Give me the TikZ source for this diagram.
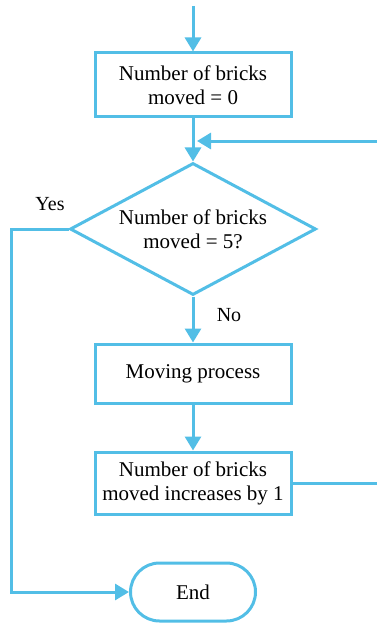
\documentclass[tikz,border=0pt]{standalone}
\usepackage{fontspec}
\setmainfont{Liberation Serif}
\newfontfamily\boxfont{Liberation Serif}
\usetikzlibrary{arrows.meta,shapes.geometric,shapes.misc}
\definecolor{flow}{RGB}{82,190,230}
\begin{document}
\begin{tikzpicture}[x=1pt,y=-1pt,
  line/.style={draw=flow,line width=3pt},
  arr/.style={line,-{Triangle[length=14pt,width=16pt]}},
  txt/.style={font=\boxfont\fontsize{21}{24}\selectfont,align=center},
  proc/.style={txt,rectangle,draw=flow,line width=3pt,fill=white,
    minimum width=196pt,inner sep=0pt},
  decision/.style={txt,diamond,draw=flow,line width=3pt,fill=white,
    aspect=1.86,minimum width=246pt,minimum height=132pt,inner sep=0pt},
  terminal/.style={txt,rounded rectangle,draw=flow,line width=3pt,fill=white,
    minimum width=125pt,minimum height=58pt,inner sep=0pt},
  lbl/.style={font=\boxfont\fontsize{20}{22}\selectfont}]
\useasboundingbox (0,0) rectangle (377,623);

% flow steps
\node[proc,minimum height=64pt] (b1) at (193,85) {Number of bricks\\moved = 0};
\node[decision] (d) at (193,229) {Number of bricks\\moved = 5?};
\node[proc,minimum height=59pt] (b2) at (193,373.5) {Moving process};
\node[proc,minimum height=62pt] (b3) at (193,483) {Number of bricks\\moved increases by 1};
\node[terminal] (end) at (193,592) {End};

% branch labels
\node[lbl] (yes) at (50,204) {Yes};
\node[lbl] (no) at (229,315) {No};

% routing points
\coordinate (start) at (193,6);
\coordinate (j) at (197,141);
\coordinate (r1) at (380,483);
\coordinate (r2) at (380,141);
\coordinate (y1) at (11,229);
\coordinate (y2) at (11,592);

% connectors
\draw[arr] (start) -- (b1);
\draw[arr] (b1) -- (d);
\draw[arr] (b3.east) -- (r1) -- (r2) -- (j);
\draw[arr] (d) -- (b2);
\draw[arr] (b2) -- (b3);
\draw[arr] (d.west) -- (y1) -- (y2) -- (end.west);
\end{tikzpicture}
\end{document}
